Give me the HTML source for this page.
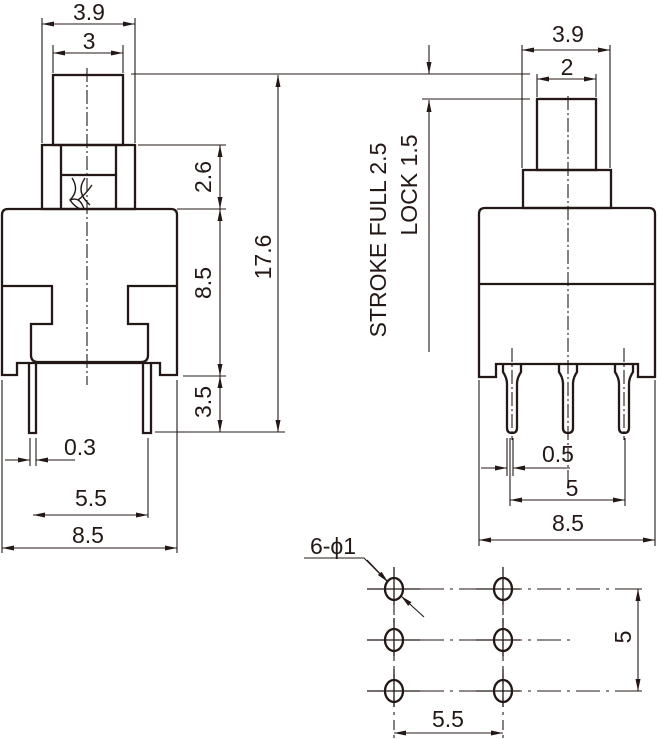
<!DOCTYPE html>
<html><head><style>body{margin:0;background:#fff}svg{display:block}text{font-family:"Liberation Sans",sans-serif;font-size:23px;fill:#231815}</style></head><body>
<svg width="657" height="739" viewBox="0 0 657 739" xmlns="http://www.w3.org/2000/svg">
<defs>
<marker id="a" viewBox="0 0 12 6" refX="12" refY="3" markerWidth="12" markerHeight="6" orient="auto-start-reverse" markerUnits="userSpaceOnUse"><path d="M0,0.5L12,3L0,5.5z" fill="#231815"/></marker>
</defs>
<g stroke="#231815" fill="none">
<!-- LEFT VIEW -->
<g stroke-width="2.3">
<rect x="53" y="75" width="70" height="70"/>
<rect x="42" y="145" width="93" height="64"/>
<path d="M61,145V209M116,145V209M61,175H116"/>
<path d="M2,375V215Q2,209 8,209H171Q177,209 177,215V375H160V363H17V375Z"/>
<path d="M2,286H52V324H31V355Q31,362 38,362H141Q148,362 148,355V324H128V286H177"/>
<path d="M29,363V433H36V363M143,363V433H151V363"/>
</g>
<path d="M72,178Q80,190 70,200Q74,206 80,209M85,178Q75,192 90,205M78,200Q85,195 92,185M70,200Q80,196 84,209" stroke-width="1.4"/>
<path d="M87,68V385" stroke-width="1.1" stroke-dasharray="14,3,2,3"/>
<g stroke-width="1.1">
<path d="M42,143V18M135,143V18M53,73V45M123,73V45"/>
<path d="M42,24H135" marker-start="url(#a)" marker-end="url(#a)"/>
<path d="M53,53H123" marker-start="url(#a)" marker-end="url(#a)"/>
<path d="M131,74H430M138,145H226M177,209H226M183,376H226M155,432H285"/>
<path d="M220,145V209" marker-start="url(#a)" marker-end="url(#a)"/>
<path d="M220,209V376" marker-start="url(#a)" marker-end="url(#a)"/>
<path d="M220,376V432" marker-start="url(#a)" marker-end="url(#a)"/>
<path d="M278,75V432" marker-start="url(#a)" marker-end="url(#a)"/>
<path d="M30,438V466M36,438V466M148,438V518M2,380V553M177,380V553"/>
<path d="M5,460H30" marker-end="url(#a)"/>
<path d="M75,460H36" marker-end="url(#a)"/>
<path d="M33,515H148" marker-start="url(#a)" marker-end="url(#a)"/>
<path d="M2,548H177" marker-start="url(#a)" marker-end="url(#a)"/>
</g>
<!-- RIGHT VIEW -->
<g stroke-width="2.3">
<rect x="537" y="99" width="59" height="71"/>
<rect x="523" y="170" width="88" height="38"/>
<path d="M479,377V214Q479,208 485,208H649Q655,208 655,214V377H638V364H496V377Z"/>
<path d="M479,284H655"/>
<path d="M503,364V372Q507,378 507,384V428Q507,433 512,433Q517,433 517,428V384Q517,378 521,372V364"/>
<path d="M559,364V372Q563,378 563,384V428Q563,433 568,433Q573,433 573,428V384Q573,378 577,372V364"/>
<path d="M615,364V372Q619,378 619,384V428Q619,433 624,433Q629,433 629,428V384Q629,378 633,372V364"/>
</g>
<g stroke-width="1.1" stroke-dasharray="14,3,2,3">
<path d="M568,96V480M512,348V440M624,348V440"/>
</g>
<g stroke-width="1.1">
<path d="M522,168V45M610,168V45M537,97V74M596,97V74"/>
<path d="M522,50H610" marker-start="url(#a)" marker-end="url(#a)"/>
<path d="M537,79H596" marker-start="url(#a)" marker-end="url(#a)"/>
<path d="M422,99H530M430,74H530"/>
<path d="M429,45V74" marker-end="url(#a)"/>
<path d="M429,352V100" marker-end="url(#a)"/>
<path d="M507,438V476M513,438V476M510,438V506M625,438V506M479,380V546M655,380V546"/>
<path d="M481,468H507" marker-end="url(#a)"/>
<path d="M570,468H513" marker-end="url(#a)"/>
<path d="M510,500H625" marker-start="url(#a)" marker-end="url(#a)"/>
<path d="M479,540H655" marker-start="url(#a)" marker-end="url(#a)"/>
</g>
<!-- HOLES -->
<g stroke-width="2.3">
<ellipse cx="394" cy="589" rx="9" ry="11"/><ellipse cx="503" cy="589" rx="9" ry="11"/>
<ellipse cx="394" cy="640" rx="9" ry="11"/><ellipse cx="503" cy="640" rx="9" ry="11"/>
<ellipse cx="394" cy="691" rx="9" ry="11"/><ellipse cx="503" cy="691" rx="9" ry="11"/>
</g>
<g stroke-width="1.3">
<path d="M367,589H420M476,589H520M367,640H420M476,640H520M367,691H420M476,691H520"/>
<path d="M394,567V605M503,567V605M394,618V656M503,618V656M394,669V707M503,669V707"/>
</g>
<g stroke-width="1.1">
<path d="M420,589H630" stroke-dasharray="24,6,3,6"/>
<path d="M420,640H570" stroke-dasharray="24,6,3,6"/>
<path d="M420,691H640" stroke-dasharray="24,6,3,6"/>
<path d="M394,605V739" stroke-dasharray="10,5,3,5"/>
<path d="M503,605V739" stroke-dasharray="10,5,3,5"/>
<path d="M630,589H642M630,691H642"/>
<path d="M638,589V691" marker-start="url(#a)" marker-end="url(#a)"/>
<path d="M394,733H503" marker-start="url(#a)" marker-end="url(#a)"/>
<path d="M304,558H364L388,582"/>
<path d="M367,560L388,582" marker-end="url(#a)"/>
<path d="M424,617L401,596" marker-end="url(#a)"/>
</g>
</g>
<!-- TEXT -->
<text x="89" y="20" text-anchor="middle">3.9</text>
<text x="89" y="49" text-anchor="middle">3</text>
<text transform="translate(211,177) rotate(-90)" text-anchor="middle">2.6</text>
<text transform="translate(211,283) rotate(-90)" text-anchor="middle">8.5</text>
<text transform="translate(211,402) rotate(-90)" text-anchor="middle">3.5</text>
<text transform="translate(271,257) rotate(-90)" text-anchor="middle">17.6</text>
<text x="80" y="455" text-anchor="middle">0.3</text>
<text x="91" y="506" text-anchor="middle">5.5</text>
<text x="88" y="543" text-anchor="middle">8.5</text>
<text x="568" y="42" text-anchor="middle">3.9</text>
<text x="567" y="75" text-anchor="middle">2</text>
<text transform="translate(386,240) rotate(-90)" text-anchor="middle">STROKE FULL 2.5</text>
<text transform="translate(417,185) rotate(-90)" text-anchor="middle">LOCK 1.5</text>
<text x="558" y="462" text-anchor="middle">0.5</text>
<text x="572" y="496" text-anchor="middle">5</text>
<text x="568" y="531" text-anchor="middle">8.5</text>
<text x="333" y="554" text-anchor="middle">6-ϕ1</text>
<text transform="translate(631,637) rotate(-90)" text-anchor="middle">5</text>
<text x="448" y="727" text-anchor="middle">5.5</text>
</svg>
</body></html>
